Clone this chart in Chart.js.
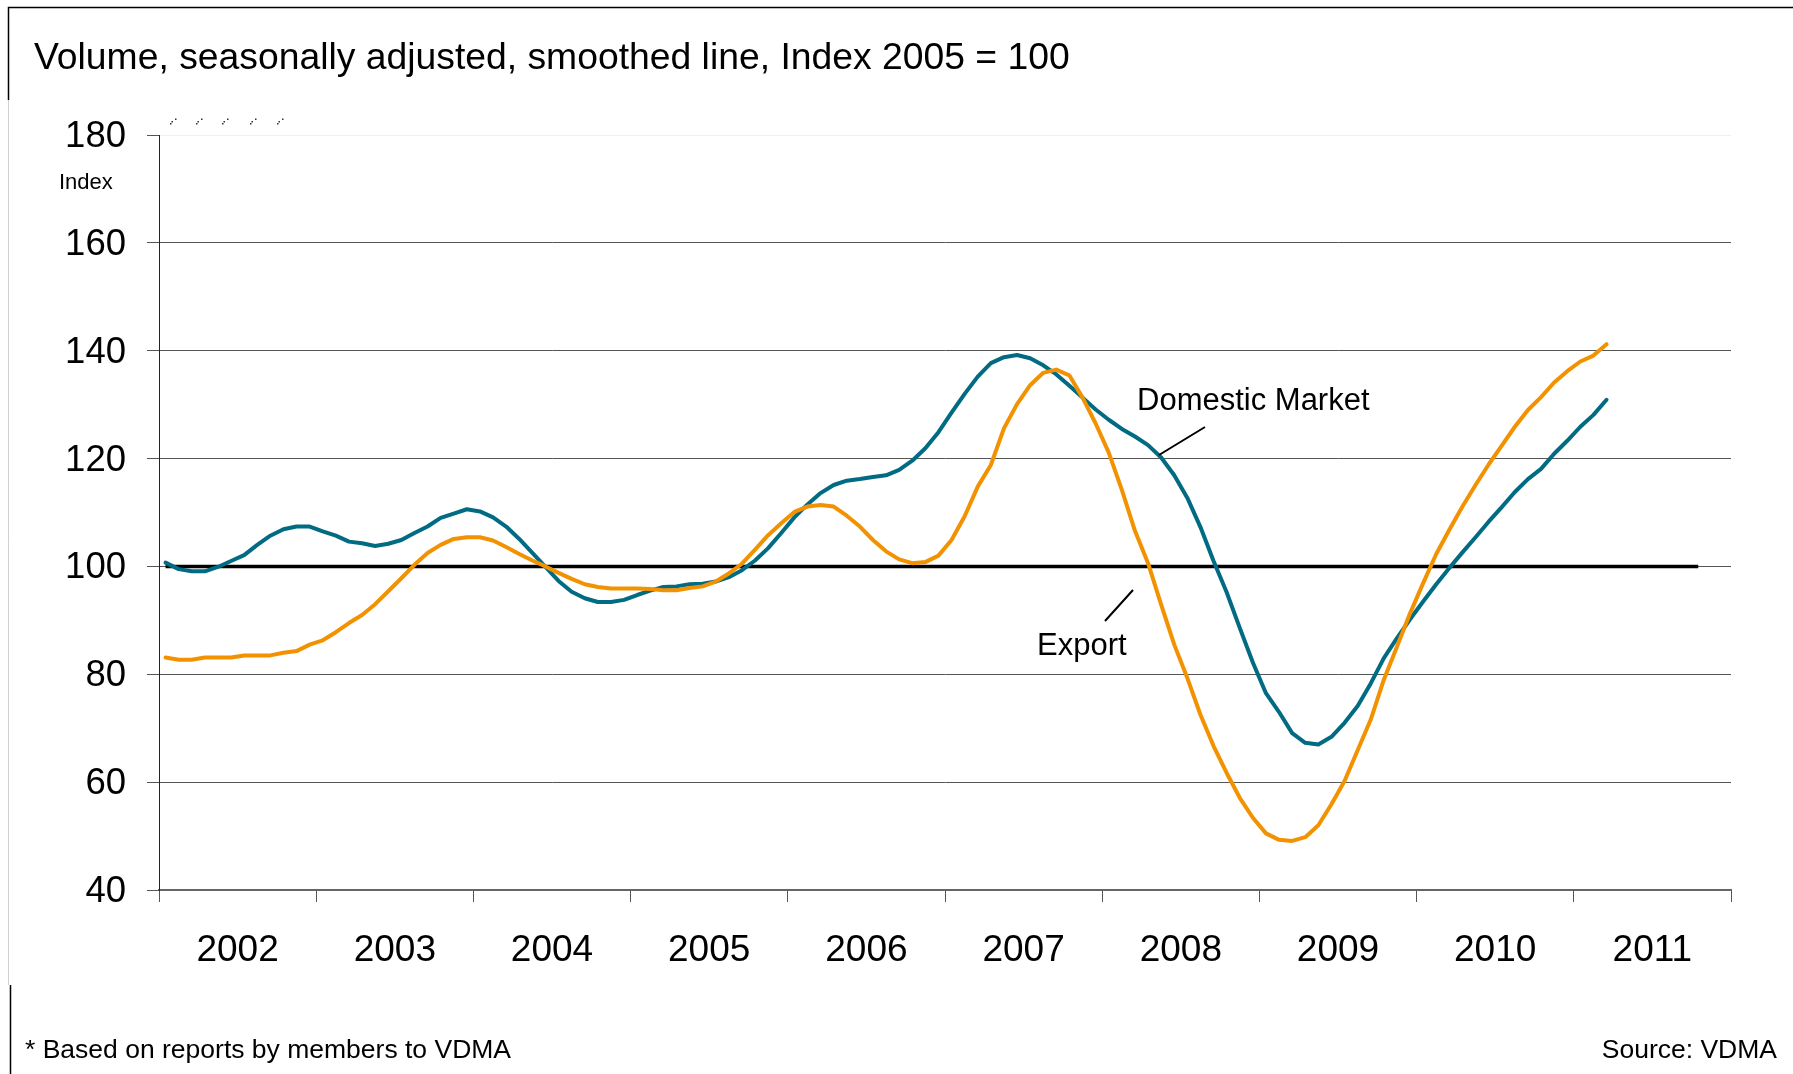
<!DOCTYPE html>
<html>
<head>
<meta charset="utf-8">
<title>VDMA order intake index</title>
<script src="https://cdn.jsdelivr.net/npm/chart.js@4.4.1/dist/chart.umd.min.js"></script>
<style>
  html, body { margin: 0; padding: 0; background: #fff; }
  #wrap { position: relative; width: 1793px; height: 1074px; }
</style>
</head>
<body>
<div id="wrap"><canvas id="chart"></canvas></div>
<script>
// monthly values, Jan 2002 .. Mar 2011
const yearLabels = ["2002", "2003", "2004", "2005", "2006", "2007", "2008", "2009", "2010", "2011"];

const domesticMarket = [
  100.7, 99.5, 99.1, 99.1, 99.9, 101.0, 102.1, 104.0, 105.7, 106.9, 107.4, 107.4,
  106.5, 105.7, 104.6, 104.3, 103.8, 104.2, 104.9, 106.2, 107.4, 109.0, 109.8, 110.6,
  110.2, 109.1, 107.4, 105.1, 102.5, 99.9, 97.3, 95.3, 94.1, 93.4, 93.4, 93.8,
  94.7, 95.5, 96.2, 96.3, 96.7, 96.8, 97.2, 98.0, 99.3, 101.1, 103.4, 106.2,
  109.1, 111.5, 113.6, 115.1, 115.9, 116.2, 116.6, 116.9, 117.9, 119.6, 121.9, 124.9,
  128.5, 132.0, 135.2, 137.7, 138.8, 139.2, 138.6, 137.3, 135.6, 133.5, 131.3, 129.1,
  127.2, 125.5, 124.1, 122.5, 120.2, 116.9, 112.7, 107.3, 101.0, 95.2, 88.6, 82.2,
  76.5, 73.0, 69.1, 67.3, 67.0, 68.4, 71.0, 74.1, 78.3, 83.0, 86.7, 90.2,
  93.5, 96.7, 99.7, 102.6, 105.4, 108.3, 111.0, 113.8, 116.2, 118.1, 120.9, 123.3,
  125.9, 128.1, 130.9
];

const exportValues = [
  83.1, 82.7, 82.7, 83.1, 83.1, 83.1, 83.5, 83.5, 83.5, 84.0, 84.3, 85.5,
  86.3, 87.8, 89.5, 91.0, 93.0, 95.4, 97.8, 100.3, 102.5, 104.0, 105.1, 105.4,
  105.4, 104.8, 103.6, 102.3, 101.1, 100.0, 98.8, 97.7, 96.7, 96.2, 95.9, 95.9,
  95.9, 95.8, 95.6, 95.6, 96.0, 96.3, 97.2, 98.7, 100.5, 103.1, 105.8, 108.0,
  110.1, 111.1, 111.4, 111.1, 109.4, 107.4, 104.9, 102.8, 101.3, 100.6, 100.8, 102.0,
  104.9, 109.3, 114.8, 118.8, 125.6, 130.1, 133.6, 135.9, 136.5, 135.4, 131.3, 126.5,
  121.1, 114.2, 106.6, 100.6, 92.9, 85.5, 79.3, 72.5, 66.7, 61.7, 57.1, 53.4,
  50.5, 49.3, 49.1, 49.8, 52.0, 55.9, 60.2, 65.9, 71.6, 79.0, 85.1, 91.3,
  96.9, 102.3, 106.8, 111.1, 115.1, 118.9, 122.4, 125.9, 129.0, 131.4, 134.1, 136.2,
  138.0, 139.1, 141.2
];

// reference line at index 100, first and last month it spans
const baseLevel = [100, 100];
const baseMonths = [0, 117];

const yTicks = [40, 60, 80, 100, 120, 140, 160, 180];

const FONT = "'Liberation Sans', Arial, Helvetica, sans-serif";
const BLUE = "#006b82";
const ORANGE = "#f39200";

const toPoints = (arr) => arr.map((v, i) => ({ x: i + 0.5, y: v }));

// texts and small decorations around the plot
const decorations = {
  id: "decorations",
  afterDraw(chart) {
    const ctx = chart.ctx;
    ctx.save();

    // frame pieces
    ctx.strokeStyle = "#000";
    ctx.lineWidth = 1.5;
    ctx.beginPath();
    ctx.moveTo(8.5, 100); ctx.lineTo(8.5, 7.5); ctx.lineTo(1793, 7.5);
    ctx.moveTo(10.5, 985); ctx.lineTo(10.5, 1074);
    ctx.stroke();
    ctx.strokeStyle = "#d0d0d0";
    ctx.lineWidth = 1;
    ctx.beginPath();
    ctx.moveTo(8.5, 100); ctx.lineTo(8.5, 985);
    ctx.stroke();

    ctx.fillStyle = "#000";
    ctx.textBaseline = "alphabetic";
    ctx.textAlign = "left";
    ctx.font = "37.3px " + FONT;
    ctx.fillText("Volume, seasonally adjusted, smoothed line, Index 2005 = 100", 34, 69);

    ctx.font = "22px " + FONT;
    ctx.fillText("Index", 59, 189);

    ctx.font = "31px " + FONT;
    ctx.fillText("Domestic Market", 1137, 410);
    ctx.fillText("Export", 1037, 655);

    ctx.font = "26.5px " + FONT;
    ctx.fillText("* Based on reports by members to VDMA", 25, 1058);
    ctx.textAlign = "right";
    ctx.fillText("Source: VDMA", 1777, 1058);

    // leader lines
    ctx.strokeStyle = "#000";
    ctx.lineWidth = 2;
    ctx.beginPath();
    ctx.moveTo(1205, 427); ctx.lineTo(1159, 455);
    ctx.moveTo(1133, 590); ctx.lineTo(1105, 621);
    ctx.stroke();

    // stray marks above the plot
    ctx.fillStyle = "#333";
    [173, 199, 225, 253, 280].forEach((x) => {
      ctx.fillRect(x - 3, 123, 1.5, 1.5);
      ctx.fillRect(x - 1.5, 121, 1.5, 1.5);
      ctx.fillRect(x + 2, 118.5, 1.5, 1.5);
    });
    ctx.restore();
  }
};

new Chart(document.getElementById("chart"), {
  type: "line",
  data: {
    datasets: [
      {
        label: "Export",
        data: toPoints(exportValues),
        borderColor: ORANGE,
        borderWidth: 4,
        pointRadius: 0,
        tension: 0,
        borderJoinStyle: "round",
        borderCapStyle: "round"
      },
      {
        label: "Domestic Market",
        data: toPoints(domesticMarket),
        borderColor: BLUE,
        borderWidth: 4,
        pointRadius: 0,
        tension: 0,
        borderJoinStyle: "round",
        borderCapStyle: "round"
      },
      {
        label: "base",
        data: baseMonths.map((m, i) => ({ x: m + 0.5, y: baseLevel[i] })),
        borderColor: "#000",
        borderWidth: 3.5,
        pointRadius: 0
      }
    ]
  },
  options: {
    responsive: true,
    maintainAspectRatio: false,
    animation: false,
    events: [],
    layout: { padding: { left: 0, top: 135, right: 62, bottom: 84 } },
    plugins: { legend: { display: false }, tooltip: { enabled: false }, title: { display: false } },
    scales: {
      x: {
        type: "linear",
        min: 0,
        max: 120,
        afterBuildTicks: (axis) => {
          const t = [];
          for (let v = 0; v <= 120; v += 6) t.push({ value: v });
          axis.ticks = t;
        },
        afterFit: (axis) => { axis.height = 100; },
        ticks: {
          autoSkip: false,
          maxRotation: 0,
          padding: 27,
          color: "#000",
          font: { family: FONT, size: 37 },
          callback: (v) => (v % 12 === 6 ? yearLabels[(v - 6) / 12] : "")
        },
        grid: {
          drawOnChartArea: false,
          drawTicks: true,
          tickLength: 12,
          tickWidth: 1,
          tickColor: (c) => (c.tick && c.tick.value % 12 === 0 ? "#555" : "rgba(0,0,0,0)")
        },
        border: { color: "#666", width: 2 }
      },
      y: {
        min: 40,
        max: 180,
        afterBuildTicks: (axis) => { axis.ticks = yTicks.map((v) => ({ value: v })); },
        afterFit: (axis) => { axis.width = 159; },
        ticks: {
          padding: 21,
          labelOffset: 2,
          color: "#000",
          font: { family: FONT, size: 36.5 }
        },
        grid: {
          color: (c) => (c.tick && c.tick.value === 180 ? "#f0f0f0" : "#555"),
          tickColor: "#555",
          tickLength: 12,
          lineWidth: 1
        },
        border: { color: "#222", width: 1 }
      }
    }
  },
  plugins: [decorations]
});
</script>
</body>
</html>
